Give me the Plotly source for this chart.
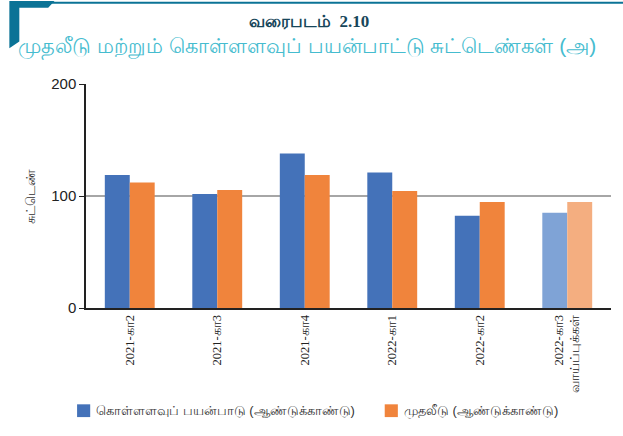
import plotly.graph_objects as go

categories = ["2021-கா2", "2021-கா3", "2021-கா4", "2022-கா1", "2022-கா2", "2022-கா3<br>வாய்ப்புக்கள்"]
capacity = [118.8, 101.8, 138.0, 121.0, 82.4, 85.0]
investment = [112.0, 105.4, 118.8, 104.5, 94.6, 94.6]

blue = ["#4472b9"] * 5 + ["#7fa3d6"]
orange = ["#f0843c"] * 5 + ["#f4ae80"]

fig = go.Figure()
fig.add_trace(go.Bar(x=categories, y=capacity, name="கொள்ளளவுப் பயன்பாடு (ஆண்டுக்காண்டு)",
                     marker=dict(color=blue, line=dict(width=0)), showlegend=False))
fig.add_trace(go.Bar(x=categories, y=investment, name="முதலீடு (ஆண்டுக்காண்டு)",
                     marker=dict(color=orange, line=dict(width=0)), showlegend=False))

# legend drawn as annotations + squares
fig.add_shape(type="rect", xref="paper", yref="paper", x0=-0.017, x1=0.008, y0=-0.487, y1=-0.43,
              fillcolor="#4472b9", line=dict(width=0))
fig.add_annotation(xref="paper", yref="paper", x=0.015, y=-0.458, xanchor="left", yanchor="middle",
                   text="கொள்ளளவுப் பயன்பாடு (ஆண்டுக்காண்டு)", showarrow=False,
                   font=dict(size=13, color="#333", family="Liberation Sans"))
fig.add_shape(type="rect", xref="paper", yref="paper", x0=0.569, x1=0.594, y0=-0.487, y1=-0.43,
              fillcolor="#f0843c", line=dict(width=0))
fig.add_annotation(xref="paper", yref="paper", x=0.601, y=-0.458, xanchor="left", yanchor="middle",
                   text="முதலீடு (ஆண்டுக்காண்டு)", showarrow=False,
                   font=dict(size=13, color="#333", family="Liberation Sans"))

fig.add_hline(y=100, line=dict(color="#a6a6a6", width=2), layer="below")

# header decoration
fig.add_shape(type="line", xref="paper", yref="paper", x0=-0.122, x1=1.03, y0=1.363, y1=1.363,
              line=dict(color="#0b7396", width=2))
fig.add_shape(type="path", xref="paper", yref="paper",
              path="M -0.146 1.37 L -0.06 1.37 L -0.072 1.34 L -0.127 1.34 L -0.127 1.19 L -0.146 1.16 Z",
              fillcolor="#0b7396", line=dict(width=0))

fig.add_annotation(xref="paper", yref="paper", x=0.424, y=1.28, xanchor="center", yanchor="middle",
                   text="<b>வரைபடம்  2.10</b>", showarrow=False,
                   font=dict(size=17, color="#17465a", family="Liberation Serif"))
fig.add_annotation(xref="paper", yref="paper", x=0.42, y=1.165, xanchor="center", yanchor="middle",
                   text="முதலீடு மற்றும் கொள்ளளவுப் பயன்பாட்டு சுட்டெண்கள் (அ)", showarrow=False,
                   font=dict(size=21, color="#45bccf", family="Liberation Sans"))

fig.update_layout(
    width=623, height=436,
    margin=dict(l=86, r=12, t=84, b=128),
    plot_bgcolor="white", paper_bgcolor="white",
    barmode="group", bargap=0.43, bargroupgap=0,
    font=dict(family="Liberation Sans", color="#222"),
)
fig.update_xaxes(showline=True, linecolor="#222", linewidth=2, ticks="", tickangle=-90,
                 tickfont=dict(size=12.5, family="Liberation Serif", color="#222"), showgrid=False)
fig.update_yaxes(range=[0, 200], tickvals=[0, 100, 200], showgrid=False, showline=True,
                 linecolor="#222", linewidth=1.5, ticks="outside", ticklen=5, tickcolor="#222",
                 tickfont=dict(size=15, color="#222"), zeroline=False,
                 title=dict(text="சுட்டெண்", font=dict(size=13, color="#333"), standoff=13))

fig.write_html("out.html")
